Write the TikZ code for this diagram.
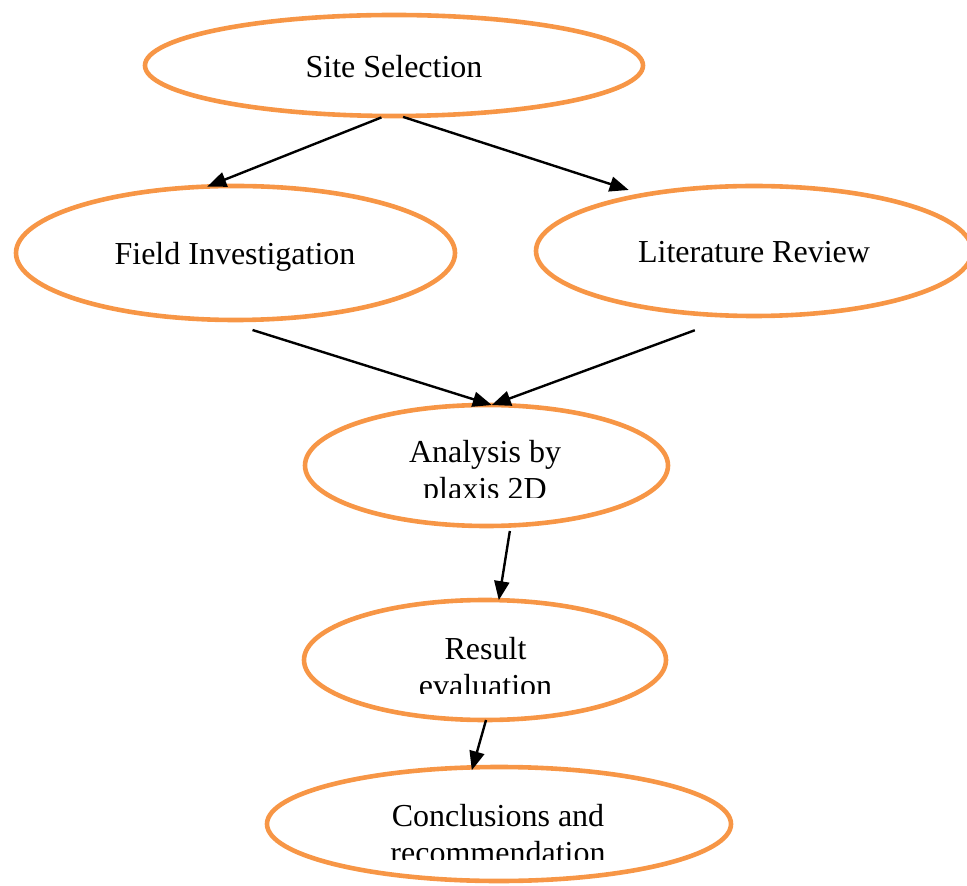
\documentclass[tikz,border=0pt]{standalone}
\usepackage{fontspec}
\setmainfont{Liberation Serif}
\usetikzlibrary{shapes.geometric,arrows.meta}

\definecolor{stageorange}{RGB}{247,150,70}
\tikzset{
	stage/.style={ellipse, draw=stageorange, line width=2.3pt, inner sep=0pt, outer sep=0pt},
	stagetext/.style={anchor=base, align=center, inner sep=0pt, font=\fontsize{16}{18.5}\selectfont},
	flow/.style={-{Triangle[length=9.5pt,width=7.5pt]}, line width=1.2pt},
}

\begin{document}
\begin{tikzpicture}[x=0.5pt, y=-0.5pt]
	\useasboundingbox (0, 0) rectangle (967, 886);

	% Эллипсы этапов
	\node[stage, minimum width=249pt, minimum height=50.5pt] (site) at (394, 65.5) {};
	\node[stage, minimum width=219.5pt, minimum height=67pt] (field) at (235.5, 253) {};
	\node[stage, minimum width=218pt, minimum height=65pt] (lit) at (754, 251) {};
	\node[stage, minimum width=181.5pt, minimum height=60.5pt] (analysis) at (486.5, 465.5) {};
	\node[stage, minimum width=181pt, minimum height=60pt] (result) at (485, 660) {};
	\node[stage, minimum width=232pt, minimum height=57pt] (concl) at (499, 824) {};

	% Подписи (base = последняя строка)
	\node[stagetext] (sitetext) at (394, 78) {Site Selection};
	\node[stagetext] (fieldtext) at (235, 265) {Field Investigation};
	\node[stagetext] (littext) at (754, 262.5) {Literature Review};
	\begin{scope}
		\clip (0, 0) rectangle (967, 497); % обрезанная вторая строка
		\node[stagetext] (analysistext) at (485, 500) {Analysis by\\plaxis 2D};
	\end{scope}
	\begin{scope}
		\clip (0, 0) rectangle (967, 693);
		\node[stagetext] (resulttext) at (485.5, 696) {Result\\evaluation};
	\end{scope}
	\begin{scope}
		\clip (0, 0) rectangle (967, 859);
		\node[stagetext] (concltext) at (498, 863) {Conclusions and\\recommendation};
	\end{scope}

	% Стрелки
	\draw[flow, shorten <=2pt] (site.260) -- (field.113);
	\draw[flow, shorten <=1.5pt, shorten >=8pt] (site.277) -- (lit.153);
	\draw[flow, shorten <=17pt] (field.257) -- (analysis.85);
	\draw[flow, shorten <=21pt] (lit.253) -- (analysis.85);
	\draw[flow, shorten <=2.8pt] (analysis.292) -- (result.77);
	\draw[flow, shorten >=-1.5pt] (result.271) -- (concl.115.5);
\end{tikzpicture}
\end{document}
